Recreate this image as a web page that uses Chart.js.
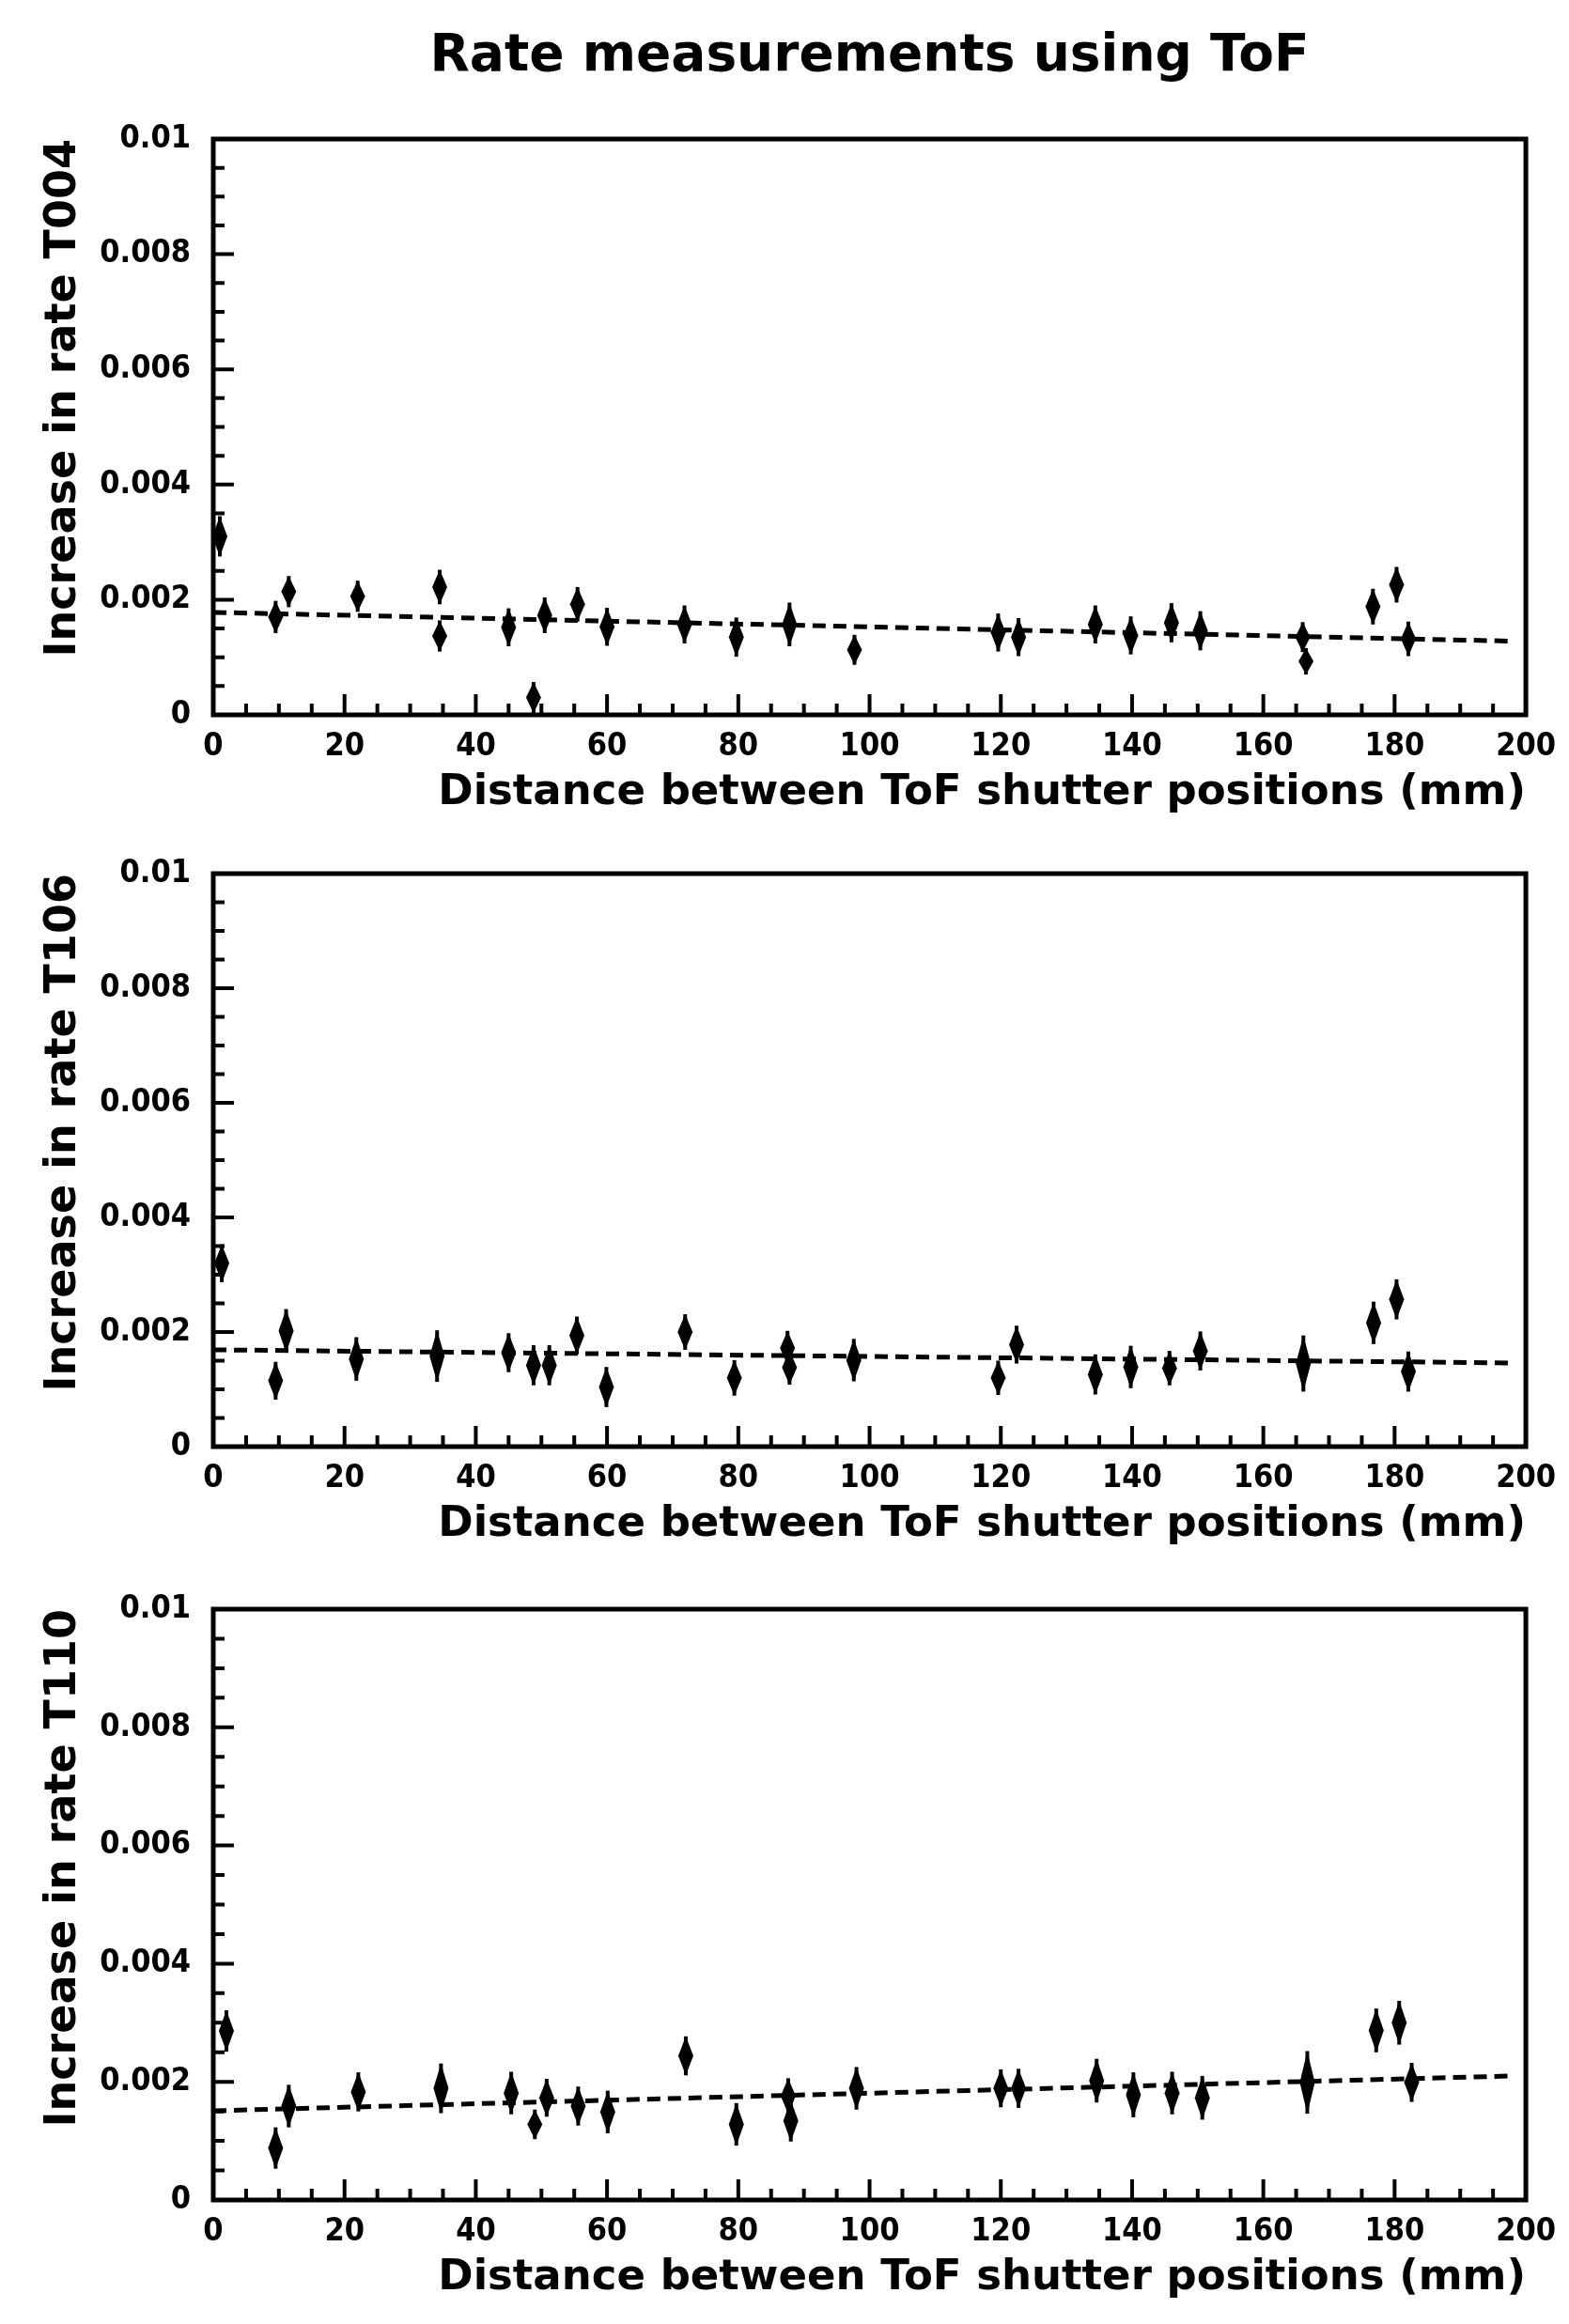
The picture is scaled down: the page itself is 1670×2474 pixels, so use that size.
<!DOCTYPE html>
<html>
<head>
<meta charset="utf-8">
<script src="https://cdn.jsdelivr.net/npm/chart.js@4.4.0/dist/chart.umd.min.js"></script>
<style>
  html, body { margin: 0; padding: 0; background: #fff; }
  body { width: 1670px; height: 2474px; position: relative; overflow: hidden; }
  canvas { position: absolute; left: 0; }
</style>
</head>
<body>
<canvas id="t004" width="1670" height="872" style="top:0px"></canvas>
<canvas id="t106" width="1670" height="778" style="top:872px"></canvas>
<canvas id="t110" width="1670" height="824" style="top:1650px"></canvas>
<script>
// Rate increase vs. shutter separation, one panel per detector
const distT004 = [1, 9.5, 11.5, 22, 34.5, 34.5, 45, 48.8, 50.5, 55.5, 60, 71.8, 79.7, 87.8, 97.7, 119.6, 122.7, 134.4, 139.8, 146, 150.4, 166, 166.5, 176.7, 180.3, 182.1];
const rateT004 = [0.0031, 0.0017, 0.00214, 0.00206, 0.00222, 0.00137, 0.00152, 0.0003, 0.00173, 0.00192, 0.00153, 0.00157, 0.00135, 0.00157, 0.00113, 0.00143, 0.00135, 0.00157, 0.00138, 0.0016, 0.00146, 0.00135, 0.00093, 0.00188, 0.00226, 0.00132];
const errT004 = [0.00035, 0.00028, 0.00027, 0.00027, 0.0003, 0.00027, 0.00033, 0.00027, 0.00031, 0.0003, 0.00033, 0.00033, 0.00034, 0.00038, 0.00026, 0.00033, 0.00033, 0.00033, 0.00033, 0.00034, 0.00034, 0.00026, 0.00023, 0.00031, 0.00031, 0.0003];

const distT106 = [1.3, 9.5, 11.1, 21.8, 34.1, 45, 48.8, 51.2, 55.4, 59.9, 71.9, 79.4, 87.5, 87.8, 97.6, 119.6, 122.4, 134.4, 139.8, 145.7, 150.4, 166.1, 176.8, 180.3, 182.1];
const rateT106 = [0.0032, 0.00115, 0.00202, 0.00153, 0.00158, 0.00164, 0.00142, 0.00142, 0.00194, 0.00104, 0.002, 0.0012, 0.00172, 0.00138, 0.00151, 0.0012, 0.00178, 0.00126, 0.00139, 0.00137, 0.00167, 0.00145, 0.00216, 0.00257, 0.00131];
const errT106 = [0.00033, 0.00033, 0.00038, 0.00038, 0.00045, 0.00034, 0.00035, 0.00035, 0.00033, 0.00035, 0.00031, 0.00031, 0.0003, 0.0003, 0.00037, 0.0003, 0.00033, 0.00035, 0.00037, 0.0003, 0.00034, 0.00049, 0.00037, 0.00035, 0.00035];

const distT110 = [2, 9.5, 11.5, 22.1, 34.7, 45.4, 49, 50.8, 55.6, 60.1, 72, 79.7, 87.6, 88, 98, 120, 122.7, 134.6, 140.2, 146.1, 150.7, 166.7, 177.2, 180.7, 182.6];
const rateT110 = [0.00286, 0.00088, 0.00159, 0.00183, 0.00189, 0.00181, 0.00128, 0.00173, 0.00159, 0.00149, 0.00244, 0.00128, 0.00176, 0.00134, 0.00189, 0.00189, 0.00189, 0.00202, 0.00178, 0.00181, 0.00173, 0.00199, 0.00287, 0.003, 0.00199];
const errT110 = [0.00035, 0.00035, 0.00036, 0.00033, 0.00042, 0.00036, 0.00025, 0.00032, 0.00033, 0.00036, 0.00033, 0.00036, 0.0003, 0.00035, 0.00036, 0.00032, 0.00033, 0.00037, 0.00038, 0.00036, 0.00037, 0.00053, 0.00037, 0.00037, 0.00033];

// straight-line fits, evaluated at the two ends
const fitX = [0, 198];
const fitT004 = [0.00178, 0.00128];
const fitT106 = [0.00169, 0.00146];
const fitT110 = [0.00151, 0.00210];

const xTicks = [0, 20, 40, 60, 80, 100, 120, 140, 160, 180, 200];
const yTicks = [0, 0.002, 0.004, 0.006, 0.008, 0.01];

const labelFont = "'DejaVu Sans', sans-serif";
const numFont = "'Liberation Sans Narrow', 'DejaVu Sans Condensed', 'Liberation Sans', sans-serif";

// spindle-shaped error bars under each point
const errorBars = {
  id: 'errorBars',
  beforeDatasetsDraw(chart) {
    const {ctx, scales: {x, y}} = chart;
    chart.data.datasets.forEach(ds => {
      if (!ds.errors) return;
      ds.data.forEach((p, i) => {
        const px = x.getPixelForValue(p.x);
        const py = y.getPixelForValue(p.y);
        const top = y.getPixelForValue(p.y + ds.errors[i]);
        const bot = y.getPixelForValue(p.y - ds.errors[i]);
        ctx.save();
        ctx.fillStyle = '#000';
        ctx.beginPath();
        ctx.moveTo(px, top);
        ctx.lineTo(px + 8, py);
        ctx.lineTo(px, bot);
        ctx.lineTo(px - 8, py);
        ctx.closePath();
        ctx.fill();
        ctx.lineWidth = 4;
        ctx.beginPath();
        ctx.moveTo(px, top);
        ctx.lineTo(px, bot);
        ctx.stroke();
        ctx.restore();
      });
    });
  }
};

// box frame plus inward ticks on the bottom and left edges
const frameTicks = {
  id: 'frameTicks',
  afterDraw(chart) {
    const {ctx, chartArea: a, scales: {x, y}} = chart;
    ctx.save();
    ctx.strokeStyle = '#000';
    ctx.lineWidth = 4;
    ctx.beginPath();
    for (let v = 0; v <= 200; v += 5) {
      const px = x.getPixelForValue(v);
      const len = v % 20 === 0 ? 22 : 12;
      ctx.moveTo(px, a.bottom);
      ctx.lineTo(px, a.bottom - len);
    }
    for (let k = 0; k <= 20; k++) {
      const py = y.getPixelForValue(k * 0.0005);
      const len = k % 4 === 0 ? 22 : 12;
      ctx.moveTo(a.left, py);
      ctx.lineTo(a.left + len, py);
    }
    ctx.stroke();
    ctx.lineWidth = 5;
    ctx.strokeRect(a.left, a.top, a.right - a.left, a.bottom - a.top);
    ctx.restore();
  }
};

function makePanel(id, dist, rate, err, fit, yTitle, pad, title) {
  const points = dist.map((d, i) => ({x: d, y: rate[i]}));
  const fitLine = fitX.map((d, i) => ({x: d, y: fit[i]}));
  new Chart(document.getElementById(id), {
    type: 'scatter',
    data: {
      datasets: [
        {
          data: points,
          errors: err,
          backgroundColor: '#000',
          borderColor: '#000',
          pointStyle: 'circle',
          pointRadius: 6,
          pointBorderWidth: 0
        },
        {
          type: 'line',
          data: fitLine,
          borderColor: '#000',
          borderWidth: 5,
          borderDash: [14, 8],
          pointRadius: 0,
          fill: false
        }
      ]
    },
    options: {
      responsive: false,
      animation: false,
      layout: {padding: {top: pad.top, bottom: pad.bottom, left: 0, right: 43}},
      plugins: {
        legend: {display: false},
        tooltip: {enabled: false},
        title: {
          display: !!title,
          text: title || '',
          fullSize: false,
          color: '#000',
          font: {family: labelFont, size: 55, weight: 'bold'},
          padding: {top: 28, bottom: 54}
        }
      },
      scales: {
        x: {
          type: 'linear',
          min: 0,
          max: 200,
          afterFit(s) { s.height = 110; },
          afterBuildTicks(s) { s.ticks = xTicks.map(v => ({value: v})); },
          grid: {display: false, drawTicks: false},
          border: {display: false},
          ticks: {
            color: '#000',
            padding: 14,
            maxRotation: 0,
            font: {family: numFont, size: 34, weight: 'bold'}
          },
          title: {
            display: true,
            text: 'Distance between ToF shutter positions (mm)',
            align: 'end',
            color: '#000',
            font: {family: labelFont, size: 45, weight: 'bold'},
            padding: {top: 5, bottom: 0}
          }
        },
        y: {
          type: 'linear',
          min: 0,
          max: 0.01,
          afterFit(s) { s.width = 227; },
          afterBuildTicks(s) { s.ticks = yTicks.map(v => ({value: v})); },
          grid: {display: false, drawTicks: false},
          border: {display: false},
          ticks: {
            color: '#000',
            padding: 24,
            font: {family: numFont, size: 34, weight: 'bold'},
            callback: v => String(+v.toFixed(3))
          },
          title: {
            display: true,
            text: yTitle,
            align: 'end',
            color: '#000',
            font: {family: labelFont, size: 46, weight: 'bold'},
            padding: {top: 40, bottom: 0}
          }
        }
      }
    },
    plugins: [errorBars, frameTicks]
  });
}

makePanel('t004', distT004, rateT004, errT004, fitT004, 'Increase in rate T004', {top: 0, bottom: 1}, 'Rate measurements using ToF');
makePanel('t106', distT106, rateT106, errT106, fitT106, 'Increase in rate T106', {top: 58, bottom: 0});
makePanel('t110', distT110, rateT110, errT110, fitT110, 'Increase in rate T110', {top: 63, bottom: 22});
</script>
</body>
</html>
